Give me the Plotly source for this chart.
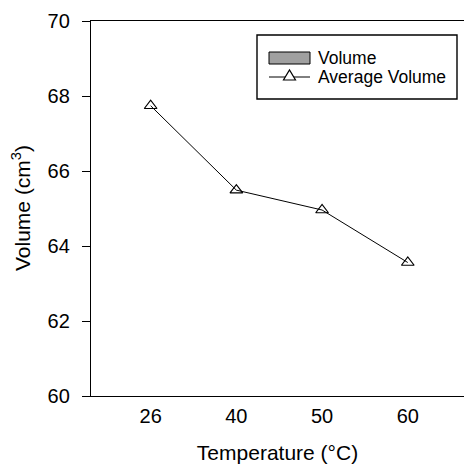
import plotly.graph_objects as go

temperatures = ["26", "40", "50", "60"]
avg_volume = [67.74, 65.49, 64.96, 63.56]
y_ticks = [60, 62, 64, 66, 68, 70]

W, H = 465, 468
ML, MR, MT, MB = 91, 1, 21, 72
PW, PH = W - ML - MR, H - MT - MB

def px(x):
    return (x - ML) / PW

def py(y):
    return (H - MB - y) / PH

FONT = "Liberation Sans, Arial, sans-serif"

fig = go.Figure()
fig.add_trace(go.Scatter(
    x=temperatures, y=avg_volume, mode="lines+markers", name="Average Volume",
    line=dict(color="black", width=1),
    marker=dict(symbol="triangle-up-open", size=11, color="black", line=dict(width=1.2)),
    showlegend=False,
))

shapes = [
    dict(type="rect", xref="paper", yref="paper", x0=px(257), x1=px(457), y0=py(99), y1=py(35),
         line=dict(color="black", width=1.4), fillcolor="white", layer="above"),
    dict(type="rect", xref="paper", yref="paper", x0=px(269), x1=px(310), y0=py(64), y1=py(52),
         line=dict(color="black", width=1), fillcolor="#a0a0a0", layer="above"),
    dict(type="line", xref="paper", yref="paper", x0=px(269), x1=px(310), y0=py(77), y1=py(77),
         line=dict(color="black", width=1), layer="above"),
]
cx, cy = 289.5, 76
tri = f"M {px(cx-6)} {py(cy+4)} L {px(cx+6)} {py(cy+4)} L {px(cx)} {py(cy-6)} Z"
shapes.append(dict(type="path", xref="paper", yref="paper", path=tri,
                   line=dict(color="black", width=1.2), fillcolor="white", layer="above"))

annotations = [
    dict(text="Volume", xref="paper", yref="paper", x=px(316), y=py(58), xanchor="left",
         yanchor="middle", showarrow=False, font=dict(size=17.5, color="black", family=FONT)),
    dict(text="Average Volume", xref="paper", yref="paper", x=px(316), y=py(77), xanchor="left",
         yanchor="middle", showarrow=False, font=dict(size=17.5, color="black", family=FONT)),
    dict(text="Volume (cm<sup>3</sup>)", xref="paper", yref="paper", x=px(21), y=py(208),
         xanchor="center", yanchor="middle", textangle=-90, showarrow=False,
         font=dict(size=21, color="black", family=FONT)),
]

fig.update_layout(
    width=W, height=H,
    margin=dict(l=ML, r=MR, t=MT, b=MB, pad=0),
    paper_bgcolor="white", plot_bgcolor="white",
    font=dict(family=FONT, size=20, color="black"),
    shapes=shapes, annotations=annotations,
    showlegend=False,
)
fig.update_xaxes(
    type="category", range=[-0.696, 3.656],
    showline=True, linecolor="black", linewidth=1.3, mirror=True,
    ticks="", showgrid=False, zeroline=False,
    ticklabelstandoff=2,
    tickfont=dict(size=20, color="black", family=FONT),
    title=dict(text="Temperature (°C)", font=dict(size=21, color="black", family=FONT), standoff=19),
)
fig.update_yaxes(
    range=[60, 70], tickvals=y_ticks,
    showline=True, linecolor="black", linewidth=1.3, mirror=False,
    ticks="outside", ticklen=8, tickwidth=1.3, tickcolor="black",
    showgrid=False, zeroline=False,
    tickfont=dict(size=20, color="black", family=FONT),
    ticklabelstandoff=8,
)

fig.write_html("out.html")
